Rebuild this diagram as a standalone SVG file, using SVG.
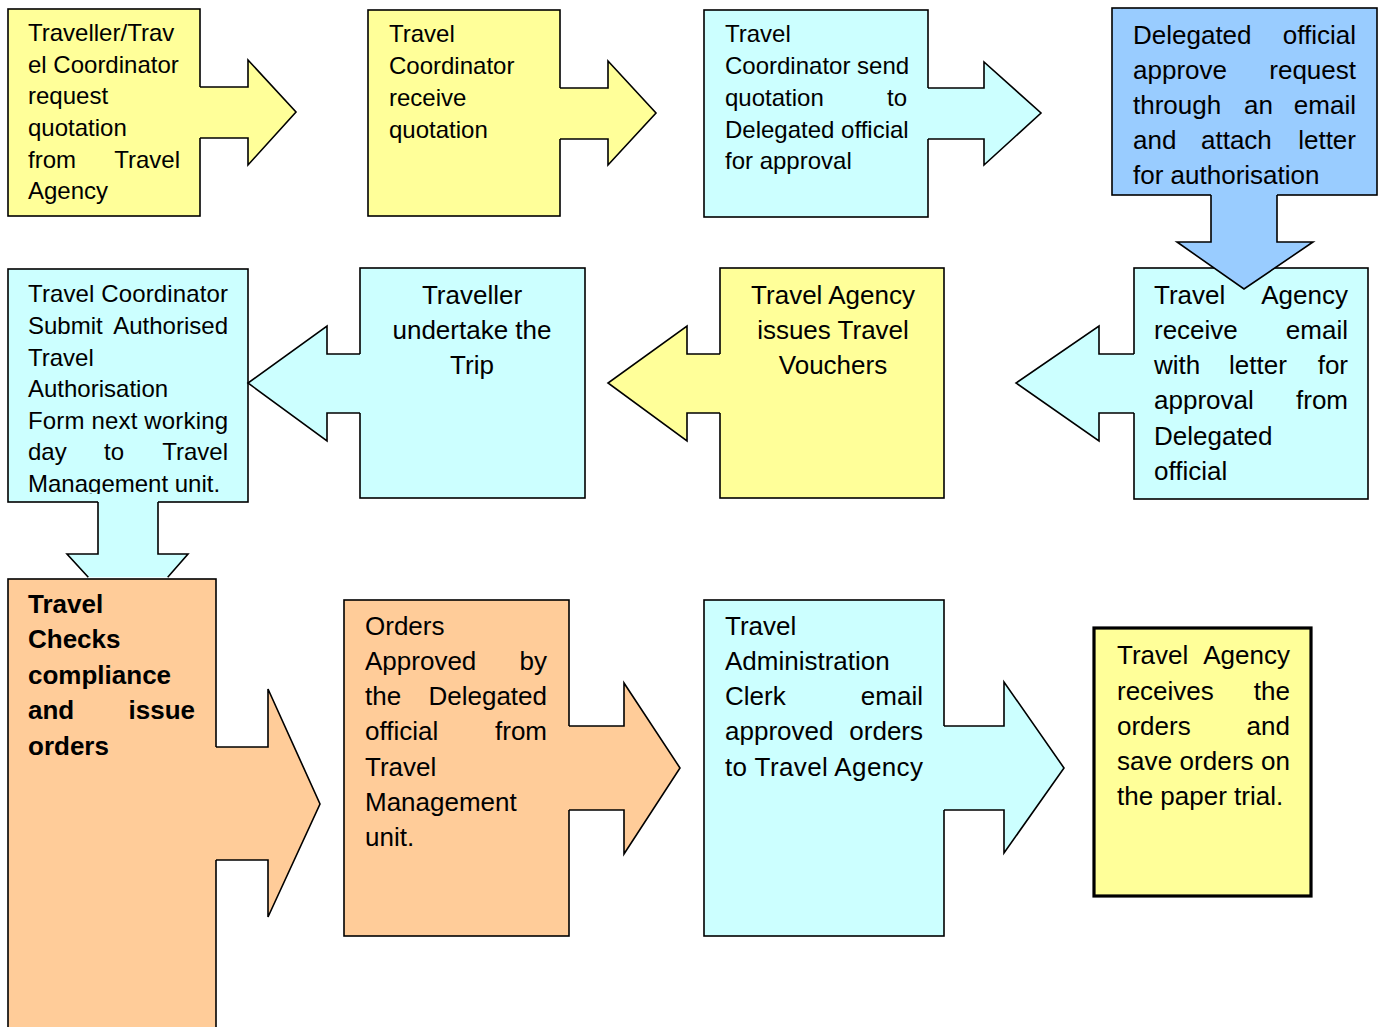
<svg xmlns="http://www.w3.org/2000/svg" width="1387" height="1027" viewBox="0 0 1387 1027">
<style>
.bx{stroke:#000;stroke-width:1.6}
.y{fill:#FFFF99}.c{fill:#CCFFFF}.b{fill:#99CCFF}.o{fill:#FFCC99}
text{font-family:"Liberation Sans",Arial,sans-serif;fill:#000}
.s{font-size:24px}.L{font-size:26px}.bd{font-weight:bold}
.e{text-anchor:end}.m{text-anchor:middle}
.al{fill:none;stroke:#000;stroke-width:1.6;stroke-linejoin:miter}
</style>
<defs>
<clipPath id="clip8"><rect x="8" y="269" width="240" height="225"/></clipPath>
</defs>
<rect width="1387" height="1027" fill="#fff"/>
<g id="nodes">
<g id="n1">
<rect class="bx y" x="8" y="9" width="192" height="207"/>
<text class="s" x="28" y="41">Traveller/Trav</text>
<text class="s" x="28" y="72.5">el Coordinator</text>
<text class="s" x="28" y="104">request</text>
<text class="s" x="28" y="136">quotation</text>
<text class="s" x="28" y="168">from</text><text class="s e" x="180" y="168">Travel</text>
<text class="s" x="28" y="199">Agency</text>
</g>
<g id="n2">
<rect class="bx y" x="368" y="10" width="192" height="206"/>
<text class="s" x="389" y="42">Travel</text>
<text class="s" x="389" y="74">Coordinator</text>
<text class="s" x="389" y="106">receive</text>
<text class="s" x="389" y="138">quotation</text>
</g>
<g id="n3">
<rect class="bx c" x="704" y="10" width="224" height="207"/>
<text class="s" x="725" y="42">Travel</text>
<text class="s" x="725" y="74">Coordinator send</text>
<text class="s" x="725" y="106">quotation</text><text class="s e" x="907" y="106">to</text>
<text class="s" x="725" y="138">Delegated official</text>
<text class="s" x="725" y="169">for approval</text>
</g>
<g id="n5">
<rect class="bx c" x="1134" y="268" width="234" height="231"/>
<text class="L" x="1154" y="304">Travel</text><text class="L e" x="1348" y="304">Agency</text>
<text class="L" x="1154" y="339">receive</text><text class="L e" x="1348" y="339">email</text>
<text class="L" x="1154" y="374">with</text><text class="L" x="1229" y="374">letter</text><text class="L e" x="1348" y="374">for</text>
<text class="L" x="1154" y="409">approval</text><text class="L e" x="1348" y="409">from</text>
<text class="L" x="1154" y="445">Delegated</text>
<text class="L" x="1154" y="480">official</text>
</g>
<g id="n4">
<rect class="bx b" x="1112" y="8" width="265" height="187"/>
<text class="L" x="1133" y="44">Delegated</text><text class="L e" x="1356" y="44">official</text>
<text class="L" x="1133" y="79">approve</text><text class="L e" x="1356" y="79">request</text>
<text class="L" x="1133" y="114">through</text><text class="L" x="1244" y="114">an</text><text class="L e" x="1356" y="114">email</text>
<text class="L" x="1133" y="149">and</text><text class="L" x="1201" y="149">attach</text><text class="L e" x="1356" y="149">letter</text>
<text class="L" x="1133" y="184">for authorisation</text>
</g>
<g id="n6">
<rect class="bx y" x="720" y="268" width="224" height="230"/>
<text class="L m" x="833" y="304">Travel Agency</text>
<text class="L m" x="833" y="339">issues Travel</text>
<text class="L m" x="833" y="374">Vouchers</text>
</g>
<g id="n7">
<rect class="bx c" x="360" y="268" width="225" height="230"/>
<text class="L m" x="472" y="304">Traveller</text>
<text class="L m" x="472" y="339">undertake the</text>
<text class="L m" x="472" y="374">Trip</text>
</g>
<g id="n8">
<rect class="bx c" x="8" y="269" width="240" height="233"/>
<g clip-path="url(#clip8)">
<text class="s" x="28" y="302" textLength="200" lengthAdjust="spacing">Travel Coordinator</text>
<text class="s" x="28" y="334">Submit</text><text class="s e" x="228" y="334">Authorised</text>
<text class="s" x="28" y="366">Travel</text>
<text class="s" x="28" y="397">Authorisation</text>
<text class="s" x="28" y="429" textLength="200" lengthAdjust="spacing">Form next working</text>
<text class="s" x="28" y="460">day</text><text class="s" x="104" y="460">to</text><text class="s e" x="228" y="460">Travel</text>
<text class="s" x="28" y="492">Management unit.</text>
</g>
</g>
<g id="n9">
<rect class="bx o" x="8" y="579" width="208" height="470"/>
<text class="L bd" x="28" y="613">Travel</text>
<text class="L bd" x="28" y="648">Checks</text>
<text class="L bd" x="28" y="684">compliance</text>
<text class="L bd" x="28" y="719">and</text><text class="L bd e" x="195" y="719">issue</text>
<text class="L bd" x="28" y="755">orders</text>
</g>
<g id="n10">
<rect class="bx o" x="344" y="600" width="225" height="336"/>
<text class="L" x="365" y="635">Orders</text>
<text class="L" x="365" y="670">Approved</text><text class="L e" x="547" y="670">by</text>
<text class="L" x="365" y="705">the</text><text class="L e" x="547" y="705">Delegated</text>
<text class="L" x="365" y="740">official</text><text class="L e" x="547" y="740">from</text>
<text class="L" x="365" y="776">Travel</text>
<text class="L" x="365" y="811">Management</text>
<text class="L" x="365" y="846">unit.</text>
</g>
<g id="n11">
<rect class="bx c" x="704" y="600" width="240" height="336"/>
<text class="L" x="725" y="635">Travel</text>
<text class="L" x="725" y="670">Administration</text>
<text class="L" x="725" y="705">Clerk</text><text class="L e" x="923" y="705">email</text>
<text class="L" x="725" y="740">approved</text><text class="L e" x="923" y="740">orders</text>
<text class="L" x="725" y="776" textLength="198" lengthAdjust="spacing">to Travel Agency</text>
</g>
<g id="n12">
<rect class="y" x="1094" y="628" width="217" height="268" stroke="#000" stroke-width="3.2"/>
<text class="L" x="1117" y="664">Travel</text><text class="L e" x="1290" y="664">Agency</text>
<text class="L" x="1117" y="700">receives</text><text class="L e" x="1290" y="700">the</text>
<text class="L" x="1117" y="735">orders</text><text class="L e" x="1290" y="735">and</text>
<text class="L" x="1117" y="770" textLength="173" lengthAdjust="spacing">save orders on</text>
<text class="L" x="1117" y="805">the paper trial.</text>
</g>
</g>
<g id="connectors">
<g id="a1"><polygon class="y" points="198,87 248,87 248,60 296,112 248,165 248,138 198,138"/><polyline class="al" points="200,87 248,87 248,60 296,112 248,165 248,138 200,138"/></g>
<g id="a2"><polygon class="y" points="558,88 608,88 608,61 656,113 608,165 608,139 558,139"/><polyline class="al" points="560,88 608,88 608,61 656,113 608,165 608,139 560,139"/></g>
<g id="a3"><polygon class="c" points="926,88 984,88 984,62 1041,113 984,165 984,139 926,139"/><polyline class="al" points="928,88 984,88 984,62 1041,113 984,165 984,139 928,139"/></g>
<g id="a4"><polygon class="b" points="1211,193 1211,242 1177,242 1244,289 1313,242 1277,242 1277,193"/><polyline class="al" points="1211,195 1211,242 1177,242 1244,289 1313,242 1277,242 1277,195"/></g>
<g id="a5"><polygon class="c" points="1136,354 1099,354 1099,326 1016,383 1099,441 1099,413 1136,413"/><polyline class="al" points="1134,354 1099,354 1099,326 1016,383 1099,441 1099,413 1134,413"/></g>
<g id="a6"><polygon class="y" points="722,354 687,354 687,326 608,383 687,441 687,413 722,413"/><polyline class="al" points="720,354 687,354 687,326 608,383 687,441 687,413 720,413"/></g>
<g id="a7"><polygon class="c" points="362,354 327,354 327,326 248,383 327,441 327,413 362,413"/><polyline class="al" points="360,354 327,354 327,326 248,383 327,441 327,413 360,413"/></g>
<g id="a8"><polygon class="c" points="98,500 98,554 67,554 88.3,577.2 167.7,577.2 188,554 158,554 158,500"/><polyline class="al" points="98,502 98,554 67,554 88.3,577.2"/><polyline class="al" points="167.7,577.2 188,554 158,554 158,502"/></g>
<g id="a9"><polygon class="o" points="214,747 268,747 268,689 320,804 268,917 268,860 214,860"/><polyline class="al" points="216,747 268,747 268,689 320,804 268,917 268,860 216,860"/></g>
<g id="a10"><polygon class="o" points="567,726 624,726 624,683 680,768 624,854 624,810 567,810"/><polyline class="al" points="569,726 624,726 624,683 680,768 624,854 624,810 569,810"/></g>
<g id="a11"><polygon class="c" points="942,726 1004,726 1004,682 1064,768 1004,853 1004,810 942,810"/><polyline class="al" points="944,726 1004,726 1004,682 1064,768 1004,853 1004,810 944,810"/></g>
</g>
</svg>
